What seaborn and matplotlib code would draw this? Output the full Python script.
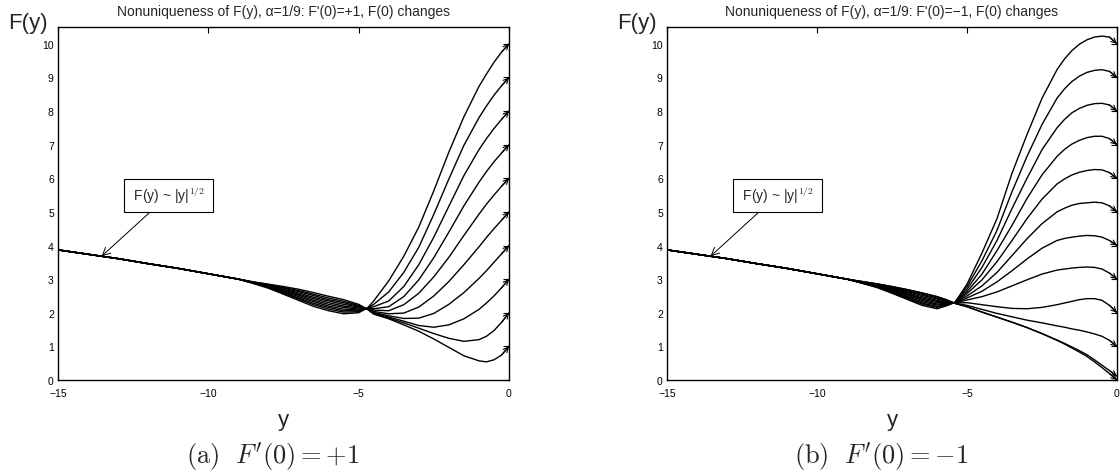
import matplotlib
matplotlib.use("Agg")
import matplotlib.pyplot as plt
import pandas as pd
import seaborn as sns

# ---------------- data ----------------
# panel (a): F'(0)=+1, x grid (y-coordinate of the chart)
XA = [-15, -14, -13, -12, -11, -10, -9, -8.5, -8, -7.5, -7, -6.5, -6, -5.5, -5,
      -4.7, -4.5, -4, -3.5, -3, -2.5, -2, -1.5, -1, -0.75, -0.5, -0.25, 0]
COMMON = [3.87, 3.74, 3.61, 3.46, 3.32, 3.16, 3.0]

A_F01 = COMMON + [2.92, 2.85, 2.78, 2.70, 2.60, 2.49, 2.39, 2.25, 2.10,
                  1.96, 1.82, 1.64, 1.45, 1.22, 0.97, 0.72, 0.57, 0.54, 0.60, 0.74, 1.0]
A_F02 = COMMON + [2.91, 2.84, 2.75, 2.66, 2.55, 2.44, 2.34, 2.22, 2.10,
                  1.97, 1.84, 1.70, 1.54, 1.38, 1.24, 1.15, 1.20, 1.30, 1.47, 1.71, 2.0]
A_F03 = COMMON + [2.91, 2.82, 2.73, 2.63, 2.51, 2.39, 2.30, 2.19, 2.11,
                  1.99, 1.87, 1.75, 1.62, 1.57, 1.64, 1.82, 2.10, 2.29, 2.50, 2.74, 3.0]
A_F04 = COMMON + [2.90, 2.81, 2.70, 2.59, 2.46, 2.35, 2.25, 2.17, 2.11,
                  2.01, 1.91, 1.83, 1.84, 1.98, 2.25, 2.60, 3.02, 3.25, 3.50, 3.75, 4.0]
A_F05 = COMMON + [2.90, 2.80, 2.68, 2.55, 2.42, 2.30, 2.20, 2.14, 2.12,
                  2.04, 1.97, 1.99, 2.17, 2.50, 2.93, 3.43, 3.96, 4.24, 4.50, 4.75, 5.0]
A_F06 = COMMON + [2.89, 2.78, 2.65, 2.52, 2.37, 2.25, 2.16, 2.11, 2.12,
                  2.08, 2.06, 2.24, 2.58, 3.07, 3.65, 4.30, 4.93, 5.23, 5.50, 5.76, 6.0]
A_F07 = COMMON + [2.89, 2.77, 2.63, 2.48, 2.33, 2.20, 2.11, 2.08, 2.13,
                  2.12, 2.18, 2.48, 2.98, 3.64, 4.40, 5.18, 5.88, 6.20, 6.49, 6.75, 7.0]
A_F08 = COMMON + [2.88, 2.76, 2.60, 2.44, 2.28, 2.16, 2.06, 2.06, 2.13,
                  2.18, 2.35, 2.78, 3.43, 4.25, 5.17, 6.08, 6.85, 7.18, 7.48, 7.75, 8.0]
A_F09 = COMMON + [2.88, 2.74, 2.58, 2.41, 2.24, 2.11, 2.02, 2.03, 2.14,
                  2.25, 2.62, 3.20, 3.95, 4.93, 5.98, 6.98, 7.80, 8.15, 8.47, 8.75, 9.0]
A_F10 = COMMON + [2.87, 2.73, 2.55, 2.37, 2.19, 2.06, 1.97, 2.00, 2.15,
                  2.35, 2.95, 3.68, 4.55, 5.63, 6.78, 7.83, 8.73, 9.10, 9.45, 9.75, 10.0]

# panel (b): F'(0)=-1
XB = [-15, -14, -13, -12, -11, -10, -9, -8.5, -8, -7.5, -7, -6.5, -6, -5.7, -5.4,
      -5, -4.5, -4, -3.5, -3, -2.5, -2, -1.75, -1.5, -1.25, -1, -0.75, -0.5, -0.25, 0]
B_F00 = COMMON + [2.93, 2.86, 2.78, 2.69, 2.59, 2.48, 2.39, 2.28,
                  2.18, 2.02, 1.87, 1.72, 1.56, 1.38, 1.18, 1.07, 0.95, 0.83, 0.70,
                  0.54, 0.37, 0.19, 0.0]
B_F00B = COMMON + [2.93, 2.86, 2.78, 2.69, 2.59, 2.48, 2.39, 2.28,
                   2.18, 2.02, 1.87, 1.72, 1.56, 1.38, 1.19, 1.09, 0.98, 0.87, 0.75,
                   0.60, 0.44, 0.28, 0.11]
B_F01 = COMMON + [2.92, 2.85, 2.76, 2.66, 2.55, 2.44, 2.37, 2.28,
                  2.22, 2.10, 1.98, 1.88, 1.78, 1.70, 1.61, 1.57, 1.52, 1.48, 1.43,
                  1.37, 1.30, 1.18, 1.0]
B_F02 = COMMON + [2.92, 2.84, 2.74, 2.63, 2.52, 2.41, 2.35, 2.29,
                  2.30, 2.24, 2.18, 2.13, 2.12, 2.16, 2.24, 2.29, 2.34, 2.39, 2.42,
                  2.42, 2.37, 2.22, 2.0]
B_F03 = COMMON + [2.91, 2.83, 2.72, 2.60, 2.48, 2.37, 2.33, 2.29,
                  2.38, 2.48, 2.62, 2.80, 2.98, 3.15, 3.27, 3.30, 3.33, 3.35, 3.36,
                  3.35, 3.30, 3.18, 3.0]
B_F04 = COMMON + [2.91, 2.82, 2.70, 2.57, 2.44, 2.34, 2.31, 2.29,
                  2.44, 2.64, 2.92, 3.25, 3.60, 3.92, 4.15, 4.21, 4.25, 4.28, 4.30,
                  4.29, 4.25, 4.15, 4.0]
B_F05 = COMMON + [2.90, 2.81, 2.68, 2.55, 2.41, 2.30, 2.30, 2.30,
                  2.50, 2.80, 3.20, 3.70, 4.20, 4.65, 5.00, 5.11, 5.20, 5.25, 5.27,
                  5.29, 5.27, 5.18, 5.0]
B_F06 = COMMON + [2.90, 2.79, 2.66, 2.52, 2.37, 2.26, 2.28, 2.30,
                  2.57, 2.98, 3.52, 4.15, 4.80, 5.38, 5.83, 5.98, 6.10, 6.18, 6.23,
                  6.26, 6.25, 6.17, 6.0]
B_F07 = COMMON + [2.89, 2.78, 2.64, 2.49, 2.33, 2.23, 2.26, 2.30,
                  2.63, 3.15, 3.85, 4.60, 5.40, 6.10, 6.65, 6.86, 7.02, 7.13, 7.21,
                  7.25, 7.25, 7.18, 7.0]
B_F08 = COMMON + [2.89, 2.77, 2.62, 2.46, 2.29, 2.19, 2.24, 2.31,
                  2.70, 3.35, 4.15, 5.10, 6.00, 6.85, 7.50, 7.75, 7.95, 8.08, 8.17,
                  8.22, 8.23, 8.18, 8.0]
B_F09 = COMMON + [2.88, 2.76, 2.60, 2.43, 2.26, 2.16, 2.22, 2.31,
                  2.78, 3.55, 4.45, 5.60, 6.65, 7.60, 8.38, 8.66, 8.88, 9.04, 9.15,
                  9.21, 9.23, 9.18, 9.0]
B_F10 = COMMON + [2.88, 2.75, 2.58, 2.40, 2.22, 2.12, 2.20, 2.31,
                  2.85, 3.78, 4.80, 6.15, 7.30, 8.38, 9.23, 9.55, 9.80, 9.99, 10.12,
                  10.20, 10.23, 10.20, 10.0]

CURVES_A = [A_F01, A_F02, A_F03, A_F04, A_F05, A_F06, A_F07, A_F08, A_F09, A_F10]
CURVES_B = [B_F00, B_F00B, B_F01, B_F02, B_F03, B_F04, B_F05, B_F06, B_F07, B_F08,
            B_F09, B_F10]

TITLES = ["Nonuniqueness of F(y), \u03b1=1/9: F'(0)=+1, F(0) changes",
          "Nonuniqueness of F(y), \u03b1=1/9: F'(0)=\u22121, F(0) changes"]
CAPTIONS = [r"$\mathrm{(a)}\ \ F'(0) = +1$", r"$\mathrm{(b)}\ \ F'(0) = -1$"]
XTICKS = [-15, -10, -5, 0]
YTICKS = list(range(0, 11))
BOX_TEXT = " F(y) ~ |y|$^{\\mathsf{1/2}}$ "
BOX_XY = (-11.33, 5.49)
BOX_TARGET = (-13.55, 3.68)

# ---------------- style ----------------
sns.set_theme(style="white")
plt.rcParams["font.family"] = ["Liberation Sans", "DejaVu Sans"]
plt.rcParams["mathtext.fontset"] = "cm"

W, H = 1120, 477
fig = plt.figure(figsize=(W / 100, H / 100), dpi=100)
axA = fig.add_axes([58 / W, 96 / H, 451 / W, 353 / H])
axB = fig.add_axes([667 / W, 96 / H, 450 / W, 353 / H])

HEAD = "->,head_length=0.7,head_width=0.35"


def draw(ax, xs, curves, title, caption):
    rows = []
    for i, c in enumerate(curves):
        for xv, fv in zip(xs, c):
            rows.append({"y": xv, "F": fv, "curve": i})
    df = pd.DataFrame(rows)
    sns.lineplot(data=df, x="y", y="F", units="curve", estimator=None,
                 color="black", lw=1.0, ax=ax, legend=False, sort=False)
    for c in curves:
        ax.annotate("", xy=(xs[-1], c[-1]), xytext=(xs[-2], c[-2]),
                    arrowprops=dict(arrowstyle=HEAD, color="black", lw=0.8,
                                    shrinkA=0, shrinkB=0, mutation_scale=5),
                    annotation_clip=False)
    ax.set_xlim(-15, 0)
    ax.set_ylim(0, 10.5)
    ax.set_xticks(XTICKS)
    ax.set_yticks(YTICKS)
    ax.set_xlabel("")
    ax.set_ylabel("")
    ax.tick_params(direction="in", top=True, right=True, length=4, width=0.8,
                   labelsize=7.5, colors="black")
    ax.tick_params(axis="x", pad=6)
    ax.tick_params(axis="y", pad=3)
    for s in ax.spines.values():
        s.set_color("black")
        s.set_linewidth(1.0)
        s.set_visible(True)
    ax.text(0.5, 1 + 12 / 353, title, ha="center", va="baseline",
            fontsize=10, transform=ax.transAxes)
    ax.text(-0.022, 1.014, "F(y)", ha="right", va="center", fontsize=16,
            transform=ax.transAxes)
    ax.text(0.5, -40 / 353, "y", ha="center", va="center", fontsize=16,
            transform=ax.transAxes)
    ax.annotate(BOX_TEXT, xy=BOX_TARGET, xytext=BOX_XY, textcoords="data",
                ha="center", va="center", fontsize=10,
                bbox=dict(boxstyle="square,pad=0.45", fc="white", ec="black", lw=0.8),
                arrowprops=dict(arrowstyle=HEAD, color="black", lw=0.7,
                                mutation_scale=8, shrinkA=0, shrinkB=0))
    pos = ax.get_position()
    fig.text((pos.x0 + pos.x1) / 2 - 11 / W, 1 - 457 / H, caption, ha="center",
             va="center", fontsize=19)


draw(axA, XA, CURVES_A, TITLES[0], CAPTIONS[0])
draw(axB, XB, CURVES_B, TITLES[1], CAPTIONS[1])

fig.savefig("out.png", dpi=100, facecolor="white")
